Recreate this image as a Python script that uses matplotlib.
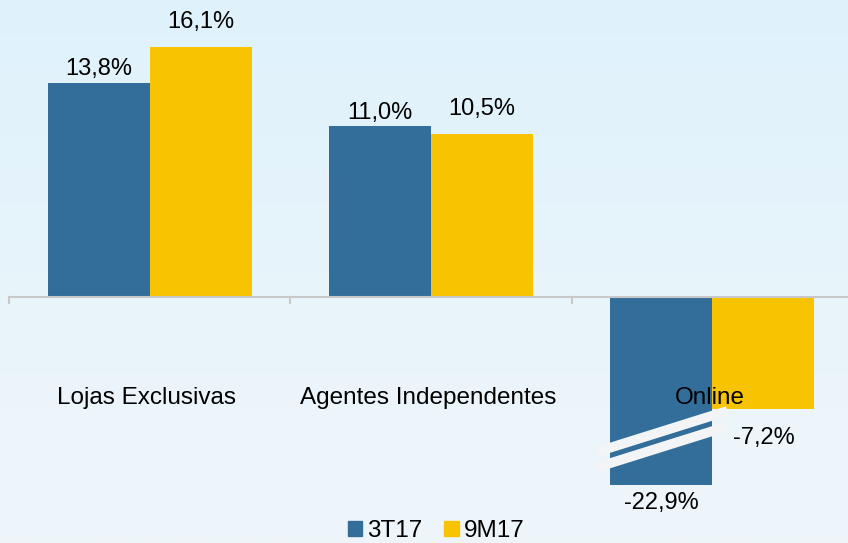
import numpy as np
import matplotlib.pyplot as plt
from matplotlib.patches import Patch

categories = ["Lojas Exclusivas", "Agentes Independentes", "Online"]
series_names = ["3T17", "9M17"]
vals_3t17 = [13.8, 11.0, -22.9]
vals_9m17 = [16.1, 10.5, -7.2]
colors = ["#336E9B", "#F8C300"]

plt.rcParams["font.family"] = ["Liberation Sans", "DejaVu Sans"]

fig = plt.figure(figsize=(8.48, 5.43), dpi=100)

# gradient background
bg = fig.add_axes([0, 0, 1, 1], zorder=-10)
top = np.array([223, 242, 252]) / 255
bot = np.array([239, 246, 250]) / 255
t = np.linspace(0, 1, 256)[:, None]
grad = top * (1 - t) + bot * t
bg.imshow(grad[:, None, :], aspect="auto", extent=[0, 1, 0, 1])
bg.axis("off")

ymin, ymax = -12.13, 19.16
ax = fig.add_axes([9 / 848, 1 - 485 / 543, 844 / 848, 485 / 543])
ax.set_facecolor("none")
ax.set_xlim(-0.5, 2.5)
ax.set_ylim(ymin, ymax)

x = np.arange(len(categories))
w = 0.363
ax.bar(x - w / 2, vals_3t17, w, color=colors[0], zorder=2)
ax.bar(x + w / 2, vals_9m17, w, color=colors[1], zorder=2)

for s in ["top", "right", "left", "bottom"]:
    ax.spines[s].set_visible(False)
ax.set_xticks([])
ax.set_yticks([])

# zero line with category separators
ax.axhline(0, color="#C8C8C8", lw=1.5, zorder=3)
for xb in [-0.5, 0.5, 1.5, 2.5]:
    ax.plot([xb, xb], [0, -0.4], color="#C8C8C8", lw=1.5, zorder=3, clip_on=False)

# value labels
def label(xpos, v, off):
    shown = max(v, ymin)
    txt = f"{v:.1f}%".replace(".", ",")
    ax.annotate(txt, (xpos, shown), xytext=(0, off), textcoords="offset points",
                ha="center", va="center", fontsize=17, annotation_clip=False, zorder=5)

for i in range(len(categories)):
    v1, v2 = vals_3t17[i], vals_9m17[i]
    label(x[i] - w / 2, v1, 10 if v1 > 0 else -13)
    label(x[i] + w / 2, v2, 18 if v2 > 0 else -21)

for i, c in enumerate(categories):
    ax.text(x[i] - 0.01, -6.5, c, ha="center", va="center", fontsize=17.5, zorder=6)

# axis break marks on the clipped bar
xb = x[2] - w / 2
for dy in [0, -1.0]:
    ax.plot([xb - 0.23, xb + 0.235], [-10.0 + dy, -7.35 + dy], color="#F2F4F6",
            lw=7, solid_capstyle="butt", zorder=4, clip_on=False)

handles = [Patch(color=colors[0]), Patch(color=colors[1])]
fig.legend(handles, series_names, loc="center", bbox_to_anchor=(436 / 848, 1 - 531 / 543),
           ncol=2, frameon=False, fontsize=17.5, handlelength=0.6, handleheight=0.6,
           handletextpad=0.2, columnspacing=0.9, borderpad=0)

fig.savefig("out.png", dpi=100)
